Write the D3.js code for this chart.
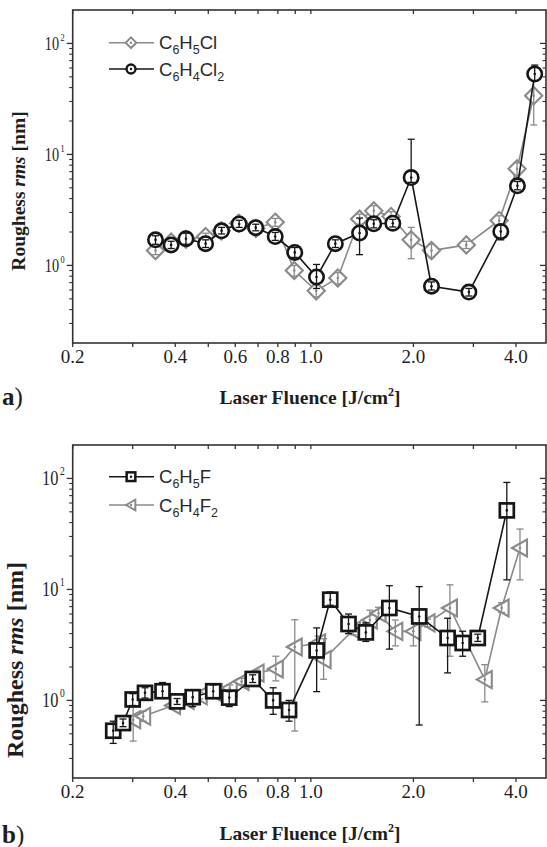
<!DOCTYPE html>
<html><head><meta charset="utf-8">
<script src="https://cdn.jsdelivr.net/npm/d3@7"></script>
<style>body{margin:0;background:#fff}svg{display:block}</style>
</head><body>
<svg id="chart" width="547" height="847"></svg>
<script>
// ---------- DATA ----------
const xTickValues = [0.2, 0.4, 0.6, 0.8, 1.0, 2.0, 4.0];
const xTickLabels = ["0.2", "0.4", "0.6", "0.8", "1.0", "2.0", "4.0"];
const xMinorValues = [0.3, 0.5, 0.7, 0.9, 3.0];
const yTickValues = [1, 10, 100];
const yTickExponents = ["0", "1", "2"];

// Panel a) C6H5Cl (gray diamonds)
const clX   = [0.350, 0.389, 0.430, 0.491, 0.546, 0.614, 0.690, 0.786, 0.894, 1.037, 1.20, 1.39, 1.53, 1.72, 1.97, 2.26, 2.86, 3.57, 4.03, 4.51];
const clY   = [1.36, 1.62, 1.72, 1.82, 2.05, 2.40, 2.15, 2.45, 0.90, 0.59, 0.77, 2.62, 3.10, 2.76, 1.70, 1.36, 1.53, 2.54, 7.41, 33.8];
const clLo  = [1.25, 1.50, 1.60, 1.70, 1.90, 2.20, 2.00, 2.25, 0.80, 0.52, 0.68, 2.35, 2.75, 2.50, 1.15, 1.18, 1.42, 2.30, 6.50, 18.4];
const clHi  = [1.48, 1.75, 1.85, 1.95, 2.20, 2.60, 2.30, 2.65, 1.00, 0.66, 0.86, 2.90, 3.45, 3.05, 2.20, 1.55, 1.65, 2.80, 8.40, 48.0];

// Panel a) C6H4Cl2 (black circles)
const cl2X  = [0.350, 0.389, 0.430, 0.491, 0.547, 0.616, 0.689, 0.786, 0.897, 1.039, 1.18, 1.39, 1.53, 1.74, 1.97, 2.26, 2.91, 3.61, 4.04, 4.54];
const cl2Y  = [1.70, 1.53, 1.74, 1.57, 2.05, 2.36, 2.19, 1.82, 1.31, 0.786, 1.57, 1.96, 2.37, 2.40, 6.19, 0.65, 0.575, 2.02, 5.21, 53.0];
const cl2Lo = [1.55, 1.42, 1.55, 1.45, 1.92, 2.20, 2.05, 1.68, 1.18, 0.62, 1.45, 1.25, 2.18, 2.22, 5.60, 0.60, 0.53, 1.70, 4.80, 46.0];
const cl2Hi = [1.85, 1.65, 1.95, 1.70, 2.20, 2.55, 2.35, 1.98, 1.45, 1.02, 1.70, 2.67, 2.58, 2.60, 13.7, 0.71, 0.62, 2.30, 5.70, 63.8];

// Panel b) C6H5F (black squares)
const fX   = [0.263, 0.281, 0.300, 0.326, 0.367, 0.405, 0.450, 0.517, 0.576, 0.675, 0.775, 0.863, 1.04, 1.14, 1.29, 1.45, 1.70, 2.08, 2.52, 2.79, 3.09, 3.76];
const fY   = [0.533, 0.625, 1.02, 1.17, 1.21, 0.98, 1.07, 1.21, 1.06, 1.56, 1.00, 0.82, 2.82, 8.08, 4.88, 4.10, 6.80, 5.71, 3.65, 3.29, 3.65, 51.5];
const fLo  = [0.41, 0.58, 0.90, 1.05, 1.05, 0.92, 0.88, 1.05, 0.88, 1.45, 0.75, 0.65, 1.20, 7.20, 4.00, 3.40, 2.90, 0.60, 1.77, 2.50, 3.40, 12.2];
const fHi  = [0.65, 0.68, 1.15, 1.30, 1.45, 1.04, 1.25, 1.38, 1.20, 1.70, 1.30, 1.00, 4.50, 9.50, 6.00, 5.00, 10.8, 10.6, 5.50, 4.20, 3.95, 92.0];

// Panel b) C6H4F2 (gray triangles)
const f2X  = [0.301, 0.322, 0.394, 0.432, 0.472, 0.523, 0.578, 0.626, 0.693, 0.789, 0.897, 1.05, 1.09, 1.33, 1.49, 1.58, 1.77, 2.00, 2.20, 2.56, 3.24, 3.63, 4.11];
const f2Y  = [0.67, 0.72, 0.90, 1.00, 1.10, 1.17, 1.29, 1.48, 1.76, 1.92, 3.03, 3.30, 2.33, 4.30, 5.30, 6.10, 4.19, 4.19, 5.00, 6.80, 1.54, 6.80, 23.6];
const f2Lo = [0.43, 0.65, 0.85, 0.94, 1.03, 1.10, 1.21, 1.39, 1.65, 1.50, 0.53, 2.90, 1.55, 3.90, 4.80, 5.40, 3.10, 3.10, 4.60, 2.50, 0.97, 6.20, 12.2];
const f2Hi = [0.95, 0.80, 0.97, 1.07, 1.18, 1.25, 1.38, 1.58, 1.88, 2.50, 5.33, 3.80, 3.60, 4.70, 6.50, 6.90, 5.30, 5.60, 5.40, 11.0, 2.10, 7.60, 35.0];

// ---------- DRAW ----------
const svg = d3.select("#chart");
const BLACK = "#161616", GRAY = "#8a8a8a", AXIS = "#333", TXT = "#1e1e1e";
const SERIF = "Liberation Serif, Times New Roman, serif";

function drawPanel(o) {
  const x = d3.scaleLog().domain([0.2, 4.9]).range([72.7, 546]);
  const y = d3.scaleLog().domain([0.2, 200]).range([o.bottom, o.top]);
  const g = svg.append("g");
  const L = 72.7, R = 546;

  g.append("rect").attr("x", L).attr("y", o.top).attr("width", R - L).attr("height", o.bottom - o.top)
    .attr("fill", "none").attr("stroke", AXIS).attr("stroke-width", 1.6);

  const allX = xTickValues.concat(xMinorValues);
  g.selectAll(".xt").data(allX).enter().append("line")
    .attr("x1", d => x(d)).attr("x2", d => x(d)).attr("y1", o.bottom).attr("y2", o.bottom + 4)
    .attr("stroke", AXIS).attr("stroke-width", 1.3);
  g.selectAll(".xtt").data(allX).enter().append("line")
    .attr("x1", d => x(d)).attr("x2", d => x(d)).attr("y1", o.top).attr("y2", o.top + 4)
    .attr("stroke", AXIS).attr("stroke-width", 1.3);
  g.selectAll(".xl").data(xTickValues).enter().append("text")
    .attr("x", d => x(d)).attr("y", o.bottom + 20)
    .attr("text-anchor", "middle").attr("font-family", SERIF)
    .attr("font-size", 19).attr("fill", TXT).text((d, i) => xTickLabels[i]);

  const minors = [];
  [0.1, 1, 10].forEach(dec => { for (let k = 2; k <= 9; k++) { const v = dec * k; if (v > 0.2 && v < 200) minors.push(v); } });
  g.selectAll(".ymn").data(minors).enter().append("line")
    .attr("x1", L - 3.5).attr("x2", L).attr("y1", d => y(d)).attr("y2", d => y(d))
    .attr("stroke", AXIS).attr("stroke-width", 1.1);
  g.selectAll(".ymj").data(yTickValues).enter().append("line")
    .attr("x1", L - 6).attr("x2", L).attr("y1", d => y(d)).attr("y2", d => y(d))
    .attr("stroke", AXIS).attr("stroke-width", 1.3);
  g.selectAll(".ymnr").data(minors).enter().append("line")
    .attr("x1", R - 3.5).attr("x2", R).attr("y1", d => y(d)).attr("y2", d => y(d))
    .attr("stroke", AXIS).attr("stroke-width", 1.1);
  g.selectAll(".ymjr").data(yTickValues).enter().append("line")
    .attr("x1", R - 6).attr("x2", R).attr("y1", d => y(d)).attr("y2", d => y(d))
    .attr("stroke", AXIS).attr("stroke-width", 1.3);

  const yl = g.selectAll(".yl").data(yTickValues).enter().append("g")
    .attr("transform", d => `translate(${L - 8},${y(d) + 6.5}) scale(${o.yLabScale},1)`);
  yl.append("text").attr("text-anchor", "end").attr("x", -o.supW)
    .attr("font-family", SERIF).attr("font-size", o.yLabSize)
    .attr("fill", TXT).text("10");
  yl.append("text").attr("text-anchor", "end").attr("x", 0).attr("y", -o.yLabSize * 0.45)
    .attr("font-family", SERIF).attr("font-size", o.yLabSize * 0.58)
    .attr("fill", TXT).text((d, i) => yTickExponents[i]);

  const yt = g.append("text").attr("transform", `translate(${o.yTitleX},${o.yTitleY}) rotate(-90)`)
    .attr("text-anchor", "middle").attr("font-family", SERIF)
    .attr("font-weight", "bold").attr("font-size", o.yTitleSize).attr("fill", TXT);
  yt.append("tspan").text("Roughess ");
  yt.append("tspan").attr("font-style", "italic").text("rms");
  yt.append("tspan").text(" [nm]");

  const xt = g.append("text").attr("x", 310).attr("y", o.xTitleY).attr("text-anchor", "middle")
    .attr("font-family", SERIF).attr("font-weight", "bold")
    .attr("font-size", 19.5).attr("fill", TXT);
  xt.append("tspan").text("Laser Fluence [J/cm");
  xt.append("tspan").attr("font-size", 12).attr("dy", -8).text("2");
  xt.append("tspan").attr("dy", 8).text("]");

  const pl = g.append("text").attr("x", 2).attr("y", o.panelY)
    .attr("font-family", SERIF).attr("font-size", 25).attr("fill", TXT);
  pl.append("tspan").attr("font-weight", "bold").text(o.panel);
  pl.append("tspan").text(")");

  o.series.forEach(s => {
    const pts = s.x.map((v, i) => ({ x: v, y: s.y[i], lo: s.lo[i], hi: s.hi[i] }));
    g.append("path").datum(pts).attr("fill", "none").attr("stroke", s.color).attr("stroke-width", 1.6)
      .attr("d", d3.line().x(d => x(d.x)).y(d => y(d.y)));
    const m = g.selectAll(null).data(pts).enter().append("g")
      .attr("transform", d => `translate(${x(d.x)},${y(d.y)})`);
    drawMarker(m, s.shape, s.color, "#fff");
    const eb = g.selectAll(null).data(pts).enter().append("g").attr("stroke", s.color).attr("stroke-width", 1.3);
    eb.append("line").attr("x1", d => x(d.x)).attr("x2", d => x(d.x)).attr("y1", d => y(d.lo)).attr("y2", d => y(d.hi));
    eb.append("line").attr("x1", d => x(d.x) - 3.5).attr("x2", d => x(d.x) + 3.5).attr("y1", d => y(d.lo)).attr("y2", d => y(d.lo));
    eb.append("line").attr("x1", d => x(d.x) - 3.5).attr("x2", d => x(d.x) + 3.5).attr("y1", d => y(d.hi)).attr("y2", d => y(d.hi));
    g.selectAll(null).data(pts).enter().append("circle").attr("cx", d => x(d.x)).attr("cy", d => y(d.y))
      .attr("r", 1.3).attr("fill", s.color);
  });

  o.legend.forEach((idx, i) => {
    const s = o.series[idx];
    const ly = o.legY[i];
    const lg = g.append("g");
    lg.append("line").attr("x1", 109).attr("x2", 154).attr("y1", ly).attr("y2", ly)
      .attr("stroke", s.color).attr("stroke-width", 1.6);
    const mk = lg.append("g").attr("transform", `translate(131,${ly}) scale(0.62)`);
    drawMarker(mk, s.shape, s.color, "#fff", 1.5);
    lg.append("circle").attr("cx", 131).attr("cy", ly).attr("r", 1.2).attr("fill", s.color);
    const t = lg.append("text").attr("x", 159).attr("y", ly + 6.5)
      .attr("font-family", "Liberation Sans, Arial, sans-serif").attr("font-size", 18.5).attr("fill", "#2a2a2a");
    s.label.forEach(part => {
      if (part.sub) t.append("tspan").attr("font-size", 12.5).attr("dy", 5).text(part.t);
      else t.append("tspan").attr("dy", part.up ? -5 : 0).text(part.t);
    });
  });
}

function drawMarker(sel, shape, color, fill, sw) {
  const w = sw || 1;
  if (shape === "circle") {
    sel.append("circle").attr("r", 7.2).attr("fill", fill).attr("stroke", color).attr("stroke-width", 2.6 * w);
  } else if (shape === "diamond") {
    sel.append("path").attr("d", "M0,-8.6L8.6,0L0,8.6L-8.6,0Z").attr("fill", fill)
      .attr("stroke", color).attr("stroke-width", 2.1 * w);
  } else if (shape === "square") {
    sel.append("rect").attr("x", -7).attr("y", -7).attr("width", 14).attr("height", 14)
      .attr("fill", fill).attr("stroke", color).attr("stroke-width", 2.7 * w);
  } else if (shape === "triangle") {
    sel.append("path").attr("d", "M-8,0L7,-8.5L7,8.5Z").attr("fill", fill)
      .attr("stroke", color).attr("stroke-width", 2.1 * w);
  }
}

function lab(base) {
  const parts = [];
  base.replace(/([A-Za-z]+)|(\d+)/g, (m, a, n) => {
    if (a) parts.push({ t: a, up: parts.length && parts[parts.length - 1].sub });
    else parts.push({ t: n, sub: true });
  });
  return parts;
}

drawPanel({
  top: 10, bottom: 343, panel: "a", panelY: 405, xTitleY: 404,
  yTitleX: 25, yTitleY: 191, yTitleSize: 19.5, yLabSize: 19, yLabScale: 0.75, supW: 7.5,
  legY: [42.7, 69], legend: [0, 1],
  series: [
    { x: clX, y: clY, lo: clLo, hi: clHi, color: GRAY, shape: "diamond", label: lab("C6H5Cl") },
    { x: cl2X, y: cl2Y, lo: cl2Lo, hi: cl2Hi, color: BLACK, shape: "circle", label: lab("C6H4Cl2") }
  ]
});

drawPanel({
  top: 445, bottom: 778, panel: "b", panelY: 843, xTitleY: 840,
  yTitleX: 23, yTitleY: 660, yTitleSize: 24, yLabSize: 21, yLabScale: 0.78, supW: 8,
  legY: [476.7, 505], legend: [1, 0],
  series: [
    { x: f2X, y: f2Y, lo: f2Lo, hi: f2Hi, color: GRAY, shape: "triangle", label: lab("C6H4F2") },
    { x: fX, y: fY, lo: fLo, hi: fHi, color: BLACK, shape: "square", label: lab("C6H5F") }
  ]
});
</script>
</body></html>
